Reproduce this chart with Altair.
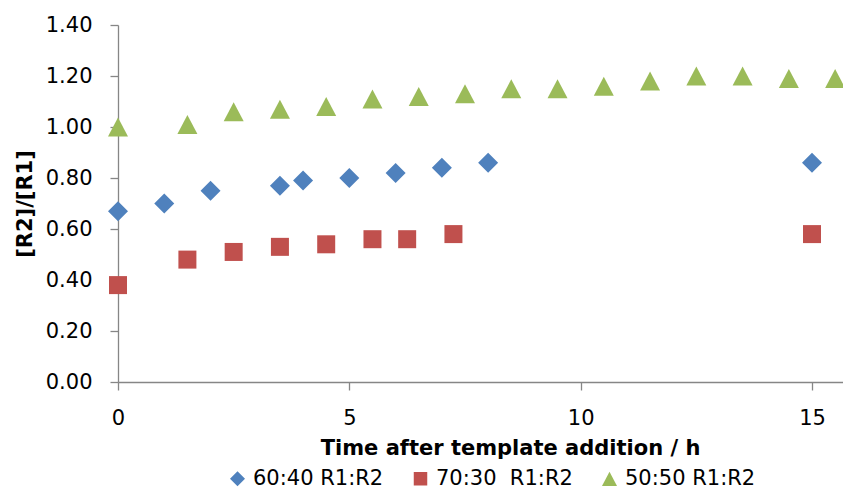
import altair as alt
import pandas as pd

series_names = ["60:40 R1:R2", "70:30\u00a0 R1:R2", "50:50 R1:R2"]
series_colors = ["#4F81BD", "#C0504D", "#9BBB59"]

t_6040 = [0, 1, 2, 3.5, 4, 5, 6, 7, 8, 15]
r_6040 = [0.67, 0.70, 0.75, 0.77, 0.79, 0.80, 0.82, 0.84, 0.86, 0.86]

t_7030 = [0, 1.5, 2.5, 3.5, 4.5, 5.5, 6.25, 7.25, 15]
r_7030 = [0.38, 0.48, 0.51, 0.53, 0.54, 0.56, 0.56, 0.58, 0.58]

t_5050 = [0, 1.5, 2.5, 3.5, 4.5, 5.5, 6.5, 7.5, 8.5, 9.5, 10.5, 11.5, 12.5, 13.5, 14.5, 15.5]
r_5050 = [1.00, 1.01, 1.06, 1.07, 1.08, 1.11, 1.12, 1.13, 1.15, 1.15, 1.16, 1.18, 1.20, 1.20, 1.19, 1.19]

x_ticks = [0, 5, 10, 15]
y_ticks = [0, 0.2, 0.4, 0.6, 0.8, 1.0, 1.2, 1.4]

rows = []
for name, ts, rs in zip(series_names, [t_6040, t_7030, t_5050], [r_6040, r_7030, r_5050]):
    for t, r in zip(ts, rs):
        rows.append({"series": name, "t": t, "r": r})
df = pd.DataFrame(rows)

shapes = [
    "diamond",
    "M-0.9,-0.9L0.9,-0.9L0.9,0.9L-0.9,0.9Z",
    "M0,-0.95L1,0.95L-1,0.95Z",
]

FONT = "DejaVu Sans"
FS = 21

chart = alt.Chart(df).mark_point(filled=True, opacity=1, size=400).encode(
    x=alt.X("t:Q",
            scale=alt.Scale(domain=[0, 15.67], nice=False, zero=True),
            axis=alt.Axis(values=x_ticks, format="d", title="Time after template addition / h",
                          grid=False, tickSize=8, labelPadding=17, titlePadding=9,
                          titleX=392, labelFlush=False)),
    y=alt.Y("r:Q",
            scale=alt.Scale(domain=[0, 1.4], nice=False),
            axis=alt.Axis(values=y_ticks, format=".2f", title="[R2]/[R1]",
                          grid=False, tickSize=8, labelPadding=18, titlePadding=10,
                          labelFlush=False)),
    color=alt.Color("series:N", scale=alt.Scale(domain=series_names, range=series_colors),
                    legend=alt.Legend(title=None, orient="none", direction="horizontal",
                                      legendX=109, legendY=443, symbolSize=225,
                                      labelFont=FONT, labelFontSize=FS, labelColor="#000000",
                                      columnPadding=26, labelOffset=5, padding=0,
                                      symbolStrokeWidth=0, symbolOpacity=1)),
    shape=alt.Shape("series:N", scale=alt.Scale(domain=series_names, range=shapes)),
).properties(
    width=725,
    height=357,
    padding={"left": 110, "top": 17, "right": 0, "bottom": 108},
    autosize=alt.AutoSizeParams(type="none"),
    background="white",
).configure_view(
    stroke=None
).configure_axis(
    domainColor="#868686",
    tickColor="#868686",
    domainWidth=1.3,
    tickWidth=1.3,
    labelFont=FONT,
    labelFontSize=FS,
    labelColor="#000000",
    titleFont=FONT,
    titleFontSize=FS,
    titleFontWeight="bold",
    titleColor="#000000",
)

chart.save("out.html", embed_options={"renderer": "svg", "actions": False})
